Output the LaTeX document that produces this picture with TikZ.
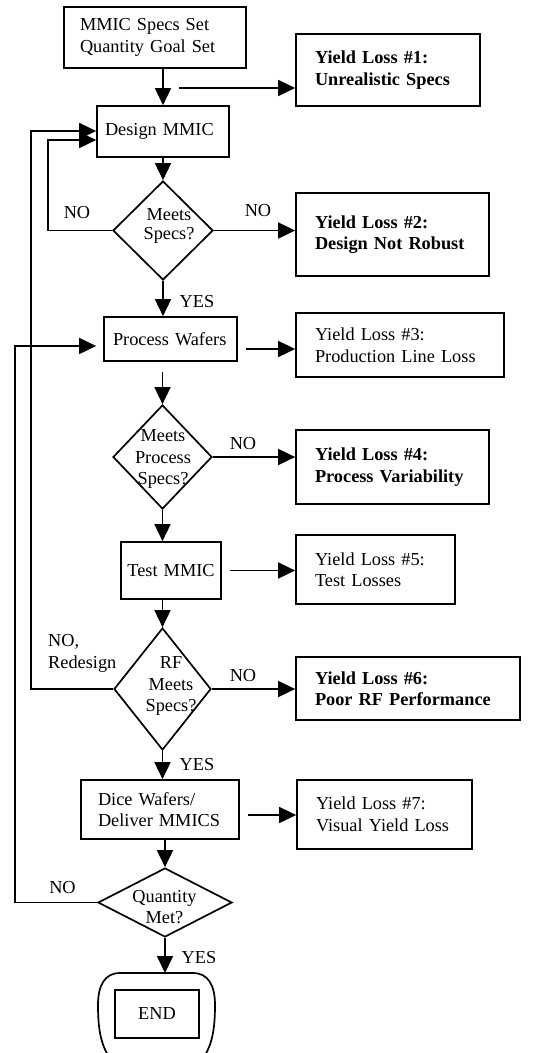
\documentclass[tikz,border=0pt]{standalone}
\usepackage{fontspec}
\setmainfont{Liberation Serif}
\usetikzlibrary{arrows.meta,shapes.geometric}
\tikzset{
  ln/.style={line width=1.7pt},
  arr/.style={ln,-{Triangle[length=17pt,width=16pt]}},
  boxn/.style={draw,ln,rectangle,align=left,inner ysep=0pt},
  ylbox/.style={boxn,inner xsep=19pt},
  dia/.style={draw,ln,diamond,inner sep=0pt},
  lbl/.style={inner sep=0pt},
  dtext/.style={inner sep=0pt,align=center}
}
\begin{document}
\begin{tikzpicture}[x=1pt,y=-1pt,font=\fontsize{18.3pt}{21.5pt}\selectfont]
\useasboundingbox (0,0) rectangle (558,1053);
\clip (0,0) rectangle (558,1053);
% main column
\node[boxn,inner xsep=16pt,text width=150pt,minimum height=61pt] (top) at (155,37.5) {MMIC Specs Set\\Quantity Goal Set};
\node[boxn,inner xsep=8pt,text width=116pt,minimum height=51pt] (design) at (163,131.5) {Design MMIC};
\node[dia,minimum width=100pt,minimum height=99pt] (d1) at (163,230.5) {};
\node[dtext,font=\fontsize{18.3pt}{19pt}\selectfont] (d1t) at (169,226) {Meets\\Specs?};
\node[boxn,inner xsep=9pt,text width=115pt,minimum height=44pt] (pw) at (170.5,339) {Process Wafers};
\node[dia,minimum width=99pt,minimum height=104pt] (d2) at (162.5,457) {};
\node[dtext] (d2t) at (163,459) {Meets\\Process\\Specs?};
\node[boxn,inner xsep=6pt,text width=88pt,align=center,minimum height=57pt] (test) at (171,570.5) {Test MMIC};
\node[dia,minimum width=97pt,minimum height=122pt] (d3) at (162.5,689) {};
\node[dtext] (d3t) at (171,686) {RF\\Meets\\Specs?};
\node[boxn,inner xsep=17pt,text width=124pt,minimum height=59pt] (dice) at (160,809.5) {Dice Wafers/\\Deliver MMICS};
\node[dia,minimum width=134pt,minimum height=69pt] (d4) at (165,902.5) {};
\node[dtext] (d4t) at (164.5,907) {Quantity\\Met?};
% end
\coordinate (endtop) at (165,973);
\draw[ln] (120,973) -- (193,973) .. controls (208,973) and (215,985) .. (215,1005)
  .. controls (215,1030) and (212,1048) .. (200,1062) -- (113,1062)
  .. controls (101,1048) and (98,1030) .. (98,1005)
  .. controls (98,985) and (105,973) .. (120,973) -- cycle;
\node[boxn,minimum width=84pt,minimum height=48pt,align=center] (endbox) at (157,1014) {END};
% yield loss boxes
\node[ylbox,text width=146pt,minimum height=72pt] (y1) at (388,70) {\bfseries Yield Loss \#1:\\\bfseries Unrealistic Specs};
\node[ylbox,text width=155pt,minimum height=83pt] (y2) at (392.5,234.5) {\bfseries Yield Loss \#2:\\\bfseries Design Not Robust};
\node[ylbox,text width=170pt,minimum height=64pt] (y3) at (400,345) {Yield Loss \#3:\\Production Line Loss};
\node[ylbox,text width=155pt,minimum height=74pt] (y4) at (392.5,467) {\bfseries Yield Loss \#4:\\\bfseries Process Variability};
\node[ylbox,text width=121pt,minimum height=69pt] (y5) at (375.5,569.5) {Yield Loss \#5:\\Test Losses};
\node[ylbox,text width=186pt,minimum height=63pt] (y6) at (408,688.5) {\bfseries Yield Loss \#6:\\\bfseries Poor RF Performance};
\node[ylbox,text width=137pt,minimum height=69pt] (y7) at (384.5,814.5) {Yield Loss \#7:\\Visual Yield Loss};
% labels
\node[lbl] (n1) at (77,213) {NO};
\node[lbl] (n2) at (258,211) {NO};
\node[lbl] (s1) at (197,302) {YES};
\node[lbl] (n3) at (243,444) {NO};
\node[lbl,anchor=base west,align=left] (n4) at (48,668) {NO,\\Redesign};
\node[lbl] (n5) at (243,676) {NO};
\node[lbl] (s2) at (197,765) {YES};
\node[lbl] (n6) at (62.5,888) {NO};
\node[lbl] (s3) at (199,958) {YES};
% coordinates for loops and free ends
\coordinate (y1s) at (179,88);
\coordinate (l1) at (48,140);
\coordinate (l2) at (15,346);
\coordinate (l3) at (31,131);
% connectors
\draw[arr] (top.south -| design.north) -- (design.north);
\draw[arr] (y1s) -- (y1s -| y1.west);
\draw[arr] (design.south) -- (d1.north);
\draw[arr] (d1.west) -| (l1) -- (l1 -| design.west);
\draw[arr] (d1.east) -- (d1.east -| y2.west);
\draw[arr] (d1.south) -- (d1.south |- pw.north);
\draw[arr,shorten >=7pt] (d4.west) -| (l2) -- (l2 -| pw.west);
\draw[arr,shorten <=8pt] ([yshift=-10pt]pw.east) -- ([yshift=-10pt]pw.east -| y3.west);
\draw[arr,shorten <=10pt] (pw.south -| d2.north) -- (d2.north);
\draw[arr] (d2.east) -- (d2.east -| y4.west);
\draw[arr] (d2.south) -- (d2.south |- test.north);
\draw[arr,shorten <=8pt] (test.east) -- (test.east -| y5.west);
\draw[arr] (test.south -| d3.north) -- (d3.north);
\draw[arr] (d3.west) -| (l3) -- (l3 -| design.west);
\draw[arr] (d3.east) -- (d3.east -| y6.west);
\draw[arr] (d3.south) -- (d3.south |- dice.north);
\draw[arr,shorten <=8pt] ([yshift=-5.5pt]dice.east) -- ([yshift=-5.5pt]dice.east -| y7.west);
\draw[arr] (dice.south -| d4.north) -- (d4.north);
\draw[arr] (d4.south) -- (endtop);
\end{tikzpicture}
\end{document}
